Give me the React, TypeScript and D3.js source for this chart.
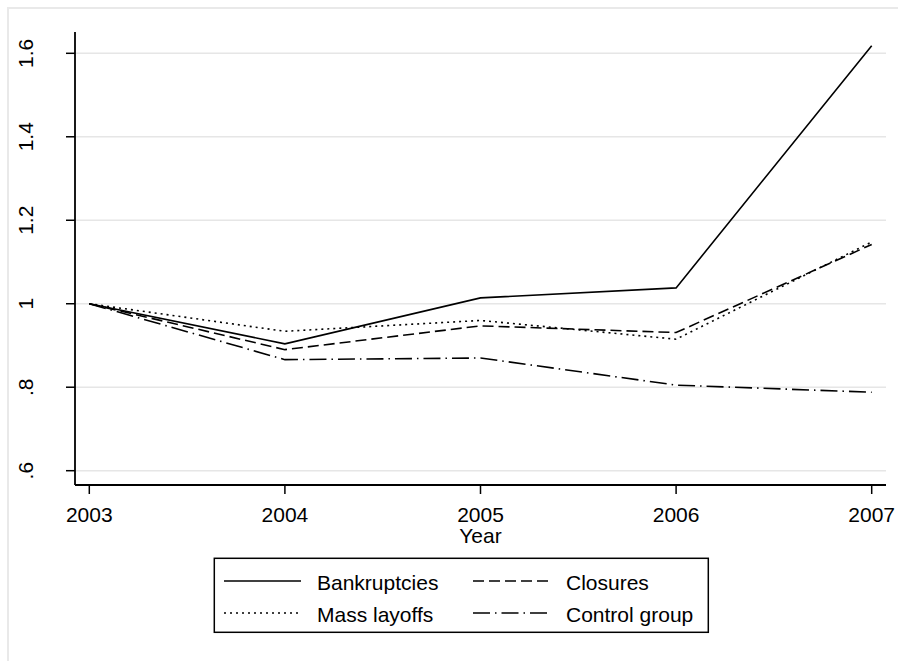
import React from "react";
import * as d3 from "d3";

const years = [2003, 2004, 2005, 2006, 2007];
const yTicks = [0.6, 0.8, 1.0, 1.2, 1.4, 1.6];
const yTickLabels = [".6", ".8", "1", "1.2", "1.4", "1.6"];
const bankruptcies = [1.0, 0.904, 1.014, 1.038, 1.618];
const closures = [1.0, 0.89, 0.947, 0.931, 1.142];
const massLayoffs = [1.0, 0.934, 0.96, 0.915, 1.148];
const controlGroup = [1.0, 0.866, 0.87, 0.805, 0.788];

const seriesNames = ["Bankruptcies", "Closures", "Mass layoffs", "Control group"];
const seriesData = [bankruptcies, closures, massLayoffs, controlGroup];
const dashes = ["none", "11 5", "2 4", "17 5 1.5 5"];

const FONT = "'Liberation Sans', Arial, sans-serif";

export default function App() {
  const W = 898, H = 661;
  const left = 75, right = 886, top = 32, bottom = 485;
  const x = d3.scaleLinear().domain([2003, 2007]).range([89.3, 871.7]);
  const y = d3.scaleLinear().domain([0.6, 1.6]).range([470.7, 53.3]);
  const line = d3.line<number>().x((_, i) => x(years[i])).y((d) => y(d));

  const legendItems = [
    { name: seriesNames[0], dash: dashes[0], lx: 224, ly: 581 },
    { name: seriesNames[1], dash: dashes[1], lx: 473, ly: 581 },
    { name: seriesNames[2], dash: dashes[2], lx: 224, ly: 613 },
    { name: seriesNames[3], dash: dashes[3], lx: 473, ly: 613 },
  ];

  return (
    <svg width={W} height={H} style={{ position: "absolute", left: 0, top: 0, background: "#fff" }}>
      <rect x={8} y={8} width={1000} height={1000} fill="#fff" stroke="#e9e9e9" strokeWidth={2} />
      {/* gridlines */}
      {yTicks.map((t) => (
        <line key={"g" + t} x1={left} x2={right} y1={y(t)} y2={y(t)} stroke="#e6e6e6" strokeWidth={1.5} />
      ))}
      {/* series */}
      {seriesData.map((s, i) => (
        <path key={seriesNames[i]} d={line(s) || ""} fill="none" stroke="#000" strokeWidth={1.6}
          strokeDasharray={dashes[i]} />
      ))}
      {/* axes */}
      <line x1={left} x2={left} y1={top} y2={bottom} stroke="#000" strokeWidth={1.8} />
      <line x1={left} x2={right} y1={bottom} y2={bottom} stroke="#000" strokeWidth={1.8} />
      {yTicks.map((t, i) => (
        <g key={"yt" + t}>
          <line x1={66} x2={left} y1={y(t)} y2={y(t)} stroke="#000" strokeWidth={1.5} />
          <text transform={`translate(33,${y(t)}) rotate(-90)`} textAnchor="middle" fontFamily={FONT} fontSize={21}>
            {yTickLabels[i]}
          </text>
        </g>
      ))}
      {years.map((yr) => (
        <g key={"xt" + yr}>
          <line x1={x(yr)} x2={x(yr)} y1={bottom} y2={494} stroke="#000" strokeWidth={1.5} />
          <text x={x(yr)} y={521.5} textAnchor="middle" fontFamily={FONT} fontSize={21}>{yr}</text>
        </g>
      ))}
      <text x={(left + right) / 2} y={543.3} textAnchor="middle" fontFamily={FONT} fontSize={21}>Year</text>
      {/* legend */}
      <rect x={214.3} y={558.3} width={494} height={74} fill="#fff" stroke="#000" strokeWidth={1.5} />
      {legendItems.map((it) => (
        <g key={"lg" + it.name}>
          <line x1={it.lx} x2={it.lx + 77} y1={it.ly} y2={it.ly} stroke="#000" strokeWidth={1.6} strokeDasharray={it.dash} />
          <text x={it.lx + 93} y={it.ly + 9} fontFamily={FONT} fontSize={21}>{it.name}</text>
        </g>
      ))}
    </svg>
  );
}
